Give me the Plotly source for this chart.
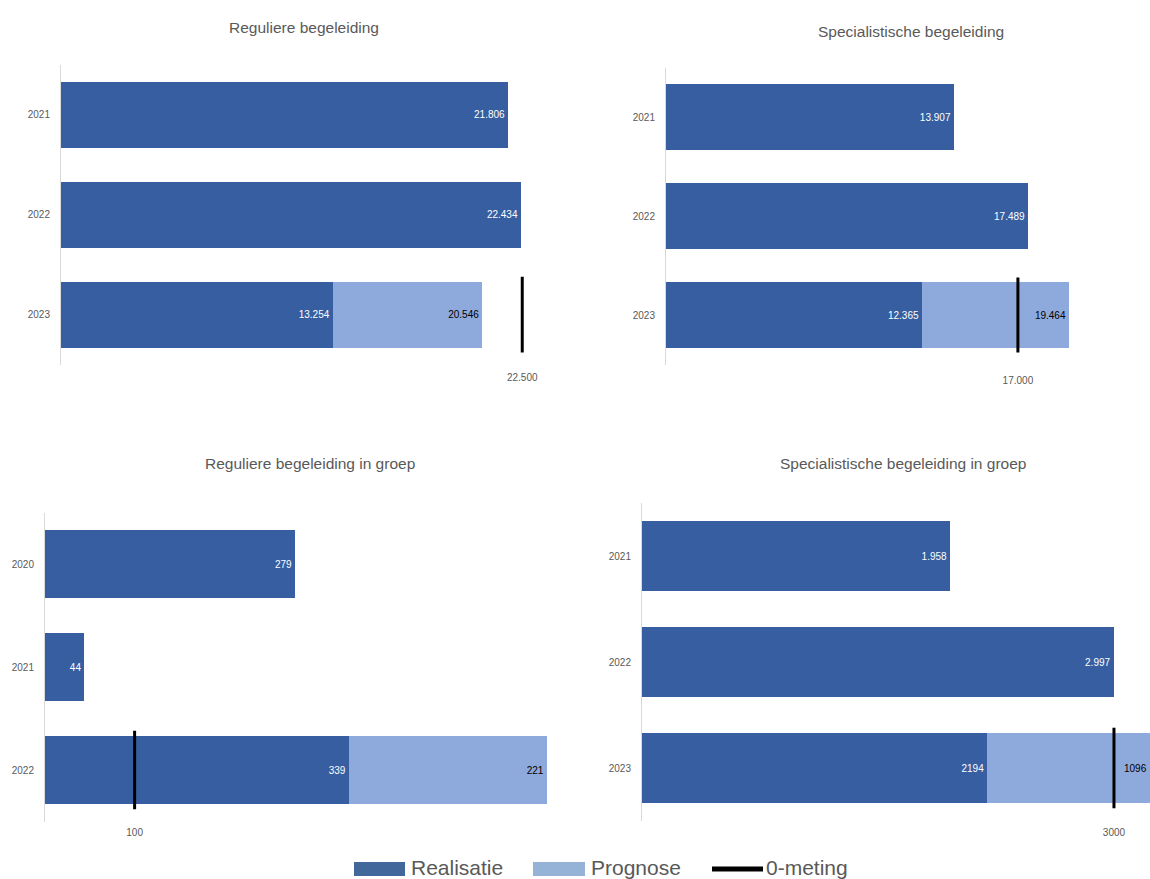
import plotly.graph_objects as go

# ---------------- data ----------------
tl_title = "Reguliere begeleiding"
tl_years = ["2021", "2022", "2023"]
tl_realisatie = [21806, 22434, 13254]
tl_prognose_total = 20546          # label shows cumulative total
tl_nulmeting = 22500

tr_title = "Specialistische begeleiding"
tr_years = ["2021", "2022", "2023"]
tr_realisatie = [13907, 17489, 12365]
tr_prognose_total = 19464          # label shows cumulative total
tr_nulmeting = 17000

bl_title = "Reguliere begeleiding in groep"
bl_years = ["2020", "2021", "2022"]
bl_realisatie = [279, 44, 339]
bl_prognose = 221                  # label shows segment value
bl_nulmeting = 100

br_title = "Specialistische begeleiding in groep"
br_years = ["2021", "2022", "2023"]
br_realisatie = [1958, 2997, 2194]
br_prognose = 1096                 # label shows segment value
br_nulmeting = 3000

legend_labels = ["Realisatie", "Prognose", "0-meting"]

# ---------------- style ----------------
W, H = 1150, 879
DARK = "#365EA0"
LIGHT = "#8EAADC"
GREY = "#595959"
FONT = "Liberation Sans, Arial, sans-serif"


def fmt(v, sep=True):
    return f"{v:,}".replace(",", ".") if sep else str(v)


def px_x(p):
    return p / W


def px_y(p):
    return 1 - p / H


panels = [
    dict(title=tl_title, years=tl_years, real=tl_realisatie,
         prog_seg=tl_prognose_total - tl_realisatie[-1], prog_label=fmt(tl_prognose_total),
         real_labels=[fmt(v) for v in tl_realisatie], nul=tl_nulmeting, nul_label=fmt(tl_nulmeting),
         x0=61, x1=575, y0=65, y1=364.5, xmax=25073, title_x=304, title_y=27, xstand=5),
    dict(title=tr_title, years=tr_years, real=tr_realisatie,
         prog_seg=tr_prognose_total - tr_realisatie[-1], prog_label=fmt(tr_prognose_total),
         real_labels=[fmt(v) for v in tr_realisatie], nul=tr_nulmeting, nul_label=fmt(tr_nulmeting),
         x0=666, x1=1140, y0=67.5, y1=364.5, xmax=22898, title_x=911, title_y=31, xstand=8),
    dict(title=bl_title, years=bl_years, real=bl_realisatie,
         prog_seg=bl_prognose, prog_label=fmt(bl_prognose),
         real_labels=[fmt(v) for v in bl_realisatie], nul=bl_nulmeting, nul_label=fmt(bl_nulmeting, False),
         x0=45, x1=580, y0=512.5, y1=821.5, xmax=597, title_x=310, title_y=463, xstand=3),
    dict(title=br_title, years=br_years, real=br_realisatie,
         prog_seg=br_prognose, prog_label=fmt(br_prognose, False),
         real_labels=[fmt(br_realisatie[0]), fmt(br_realisatie[1]), fmt(br_realisatie[2], False)],
         nul=br_nulmeting, nul_label=fmt(br_nulmeting, False),
         x0=642, x1=1150, y0=503, y1=821, xmax=3229, title_x=903, title_y=463, xstand=4),
]

fig = go.Figure()
layout_axes = {}
annotations = []

for i, p in enumerate(panels):
    k = "" if i == 0 else str(i + 1)
    xa, ya = "x" + k, "y" + k
    pos = list(range(len(p["years"])))
    last = pos[-1]
    clipped = p["real"][-1] + p["prog_seg"] > p["xmax"]

    fig.add_trace(go.Bar(
        orientation="h", x=p["real"], y=pos, width=0.66,
        marker=dict(color=DARK, line=dict(width=0)),
        text=p["real_labels"], textposition="inside", insidetextanchor="end",
        textfont=dict(family=FONT, size=10, color="white"),
        xaxis=xa, yaxis=ya, showlegend=False, name=legend_labels[0],
    ))
    fig.add_trace(go.Bar(
        orientation="h", x=[p["prog_seg"]], y=[last], width=0.66,
        marker=dict(color=LIGHT, line=dict(width=0)),
        text=[""] if clipped else [p["prog_label"]],
        textposition="inside", insidetextanchor="end",
        textfont=dict(family=FONT, size=10, color="black"),
        xaxis=xa, yaxis=ya, showlegend=False, name=legend_labels[1],
    ))
    if clipped:
        # bar runs past the chart edge: keep its label visible at the edge
        annotations.append(dict(
            text=p["prog_label"], xref=xa + " domain", yref=ya, x=1, y=last,
            xanchor="right", yanchor="middle", xshift=-1, showarrow=False,
            font=dict(family=FONT, size=10, color="black"),
        ))
    fig.add_trace(go.Scatter(
        x=[p["nul"], p["nul"]], y=[last - 0.38, last + 0.38], mode="lines",
        line=dict(color="black", width=3),
        xaxis=xa, yaxis=ya, showlegend=False, name=legend_labels[2],
        hoverinfo="skip",
    ))

    layout_axes["xaxis" + k] = dict(
        domain=[px_x(p["x0"]), px_x(p["x1"])], range=[0, p["xmax"]],
        anchor=ya, showgrid=False, zeroline=False, showline=False, ticks="",
        tickvals=[p["nul"]], ticktext=[p["nul_label"]], ticklabelstandoff=p["xstand"],
        tickfont=dict(family=FONT, size=10, color=GREY), fixedrange=True,
    )
    layout_axes["yaxis" + k] = dict(
        domain=[px_y(p["y1"]), px_y(p["y0"])], range=[last + 0.5, -0.5],
        anchor=xa, showgrid=False, zeroline=False, showline=True,
        linecolor="#D9D9D9", linewidth=1, ticks="",
        tickvals=pos, ticktext=p["years"], ticklabelstandoff=8,
        tickfont=dict(family=FONT, size=10, color=GREY), fixedrange=True,
    )
    annotations.append(dict(
        text=p["title"], xref="paper", yref="paper",
        x=px_x(p["title_x"]), y=px_y(p["title_y"]), xanchor="center", yanchor="middle",
        showarrow=False, font=dict(family=FONT, size=15.5, color=GREY),
    ))

# ---------------- custom legend ----------------
shapes = [
    dict(type="rect", xref="paper", yref="paper", x0=px_x(354), x1=px_x(405),
         y0=px_y(876), y1=px_y(862), fillcolor="#41679B", line=dict(width=0)),
    dict(type="rect", xref="paper", yref="paper", x0=px_x(533), x1=px_x(585),
         y0=px_y(876), y1=px_y(862), fillcolor="#95B3D7", line=dict(width=0)),
    dict(type="line", xref="paper", yref="paper", x0=px_x(712), x1=px_x(763),
         y0=px_y(869), y1=px_y(869), line=dict(color="black", width=5)),
]
for lbl, xp in zip(legend_labels, [409, 589, 764]):
    annotations.append(dict(
        text=lbl, xref="paper", yref="paper", x=px_x(xp), y=px_y(867),
        xanchor="left", yanchor="middle", showarrow=False,
        font=dict(family=FONT, size=21, color=GREY),
    ))

fig.update_layout(
    width=W, height=H, margin=dict(l=0, r=0, t=0, b=0),
    paper_bgcolor="white", plot_bgcolor="white",
    barmode="stack", showlegend=False, hovermode=False,
    annotations=annotations, shapes=shapes,
    **layout_axes,
)

fig.write_html(
    "out.html",
    config={"displayModeBar": False},
    post_script="document.body.style.margin='0';document.body.style.overflow='hidden';",
)
